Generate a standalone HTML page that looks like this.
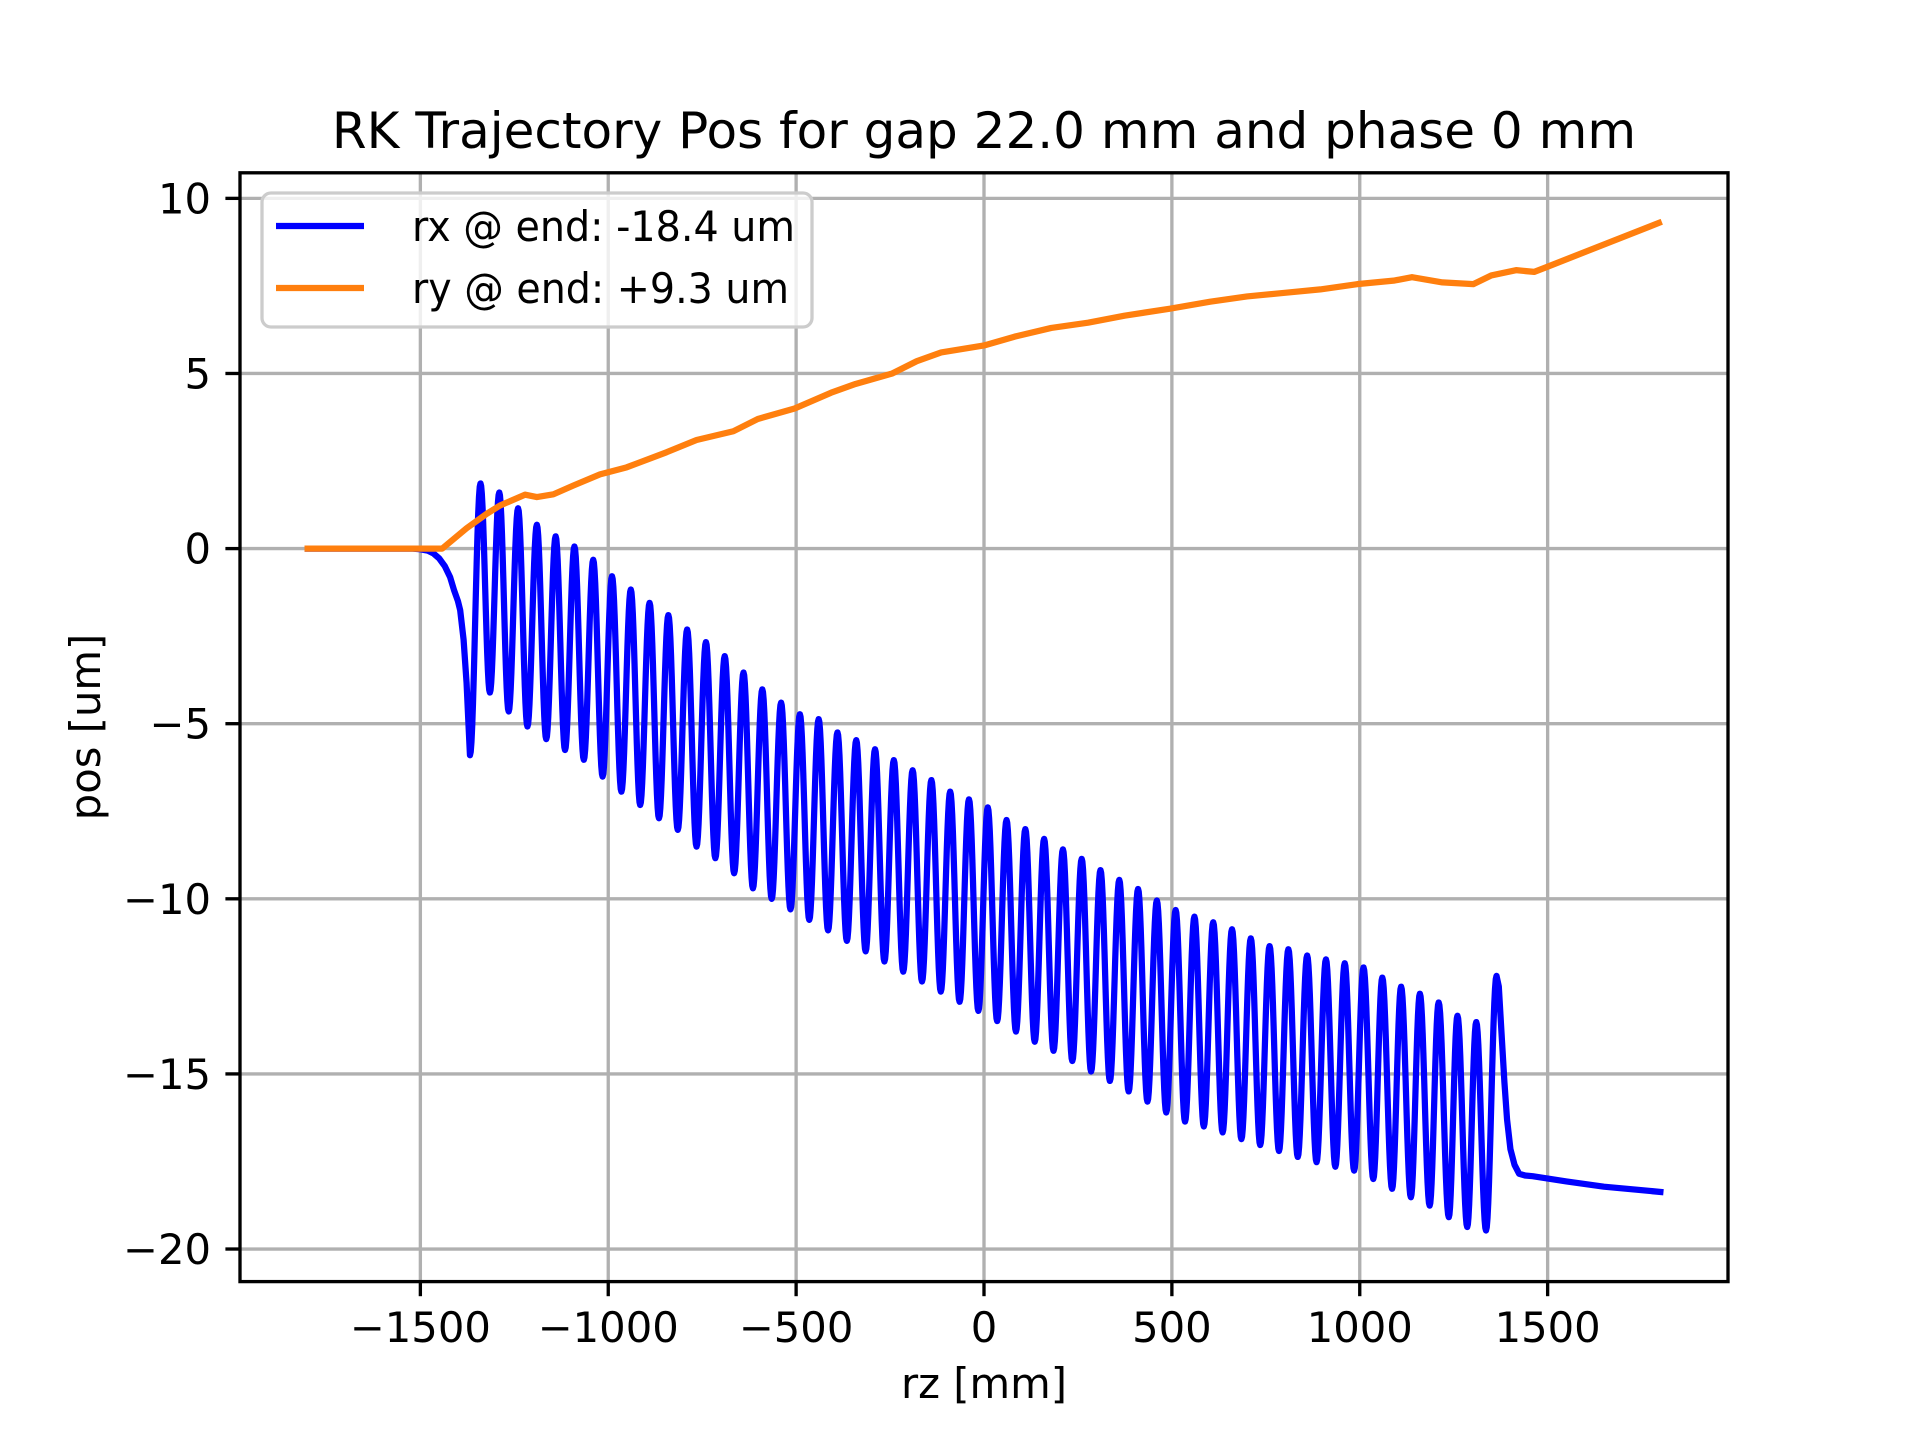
<!DOCTYPE html>
<html><head><meta charset="utf-8"><style>
html,body{margin:0;padding:0;background:#fff;}
svg{display:block;font-family:"DejaVu Sans","Liberation Sans",sans-serif;}
</style></head><body>
<svg id="chart" width="1920" height="1440" viewBox="0 0 1920 1440" xmlns="http://www.w3.org/2000/svg">
<rect x="0" y="0" width="1920" height="1440" fill="#fff"/>
<g id="grid"></g>
<g id="series"></g>
<g id="axes"></g>
<text x="984" y="148" font-size="50" text-anchor="middle">RK Trajectory Pos for gap 22.0 mm and phase 0 mm</text>
<text x="984" y="1398" font-size="41.7" text-anchor="middle">rz [mm]</text>
<text x="0" y="0" font-size="41.7" text-anchor="middle" transform="translate(100,727) rotate(-90)">pos [um]</text>
<g>
<rect x="262" y="193" width="550" height="134" rx="9" fill="#fff" fill-opacity="0.8" stroke="#cccccc" stroke-width="3.3"/>
<line x1="276" y1="226" x2="364" y2="226" stroke="#0000ff" stroke-width="6.25"/>
<text x="412" y="241" font-size="41.7" textLength="383" lengthAdjust="spacingAndGlyphs">rx @ end: -18.4 um</text>
<line x1="276" y1="288" x2="364" y2="288" stroke="#ff7f0e" stroke-width="6.25"/>
<text x="412" y="303" font-size="41.7" textLength="377" lengthAdjust="spacingAndGlyphs">ry @ end: +9.3 um</text>
</g>
</svg>
<script>
const xTicks = [-1500, -1000, -500, 0, 500, 1000, 1500];
const xTickLabels = ["\u22121500", "\u22121000", "\u2212500", "0", "500", "1000", "1500"];
const yTicks = [10, 5, 0, -5, -10, -15, -20];
const yTickLabels = ["10", "5", "0", "\u22125", "\u221210", "\u221215", "\u221220"];

// rx: lead-in (linear)
const rxPreX = [-1800, -1520, -1500, -1480, -1465, -1450, -1435, -1421, -1410, -1400, -1394, -1385, -1377, -1372];
const rxPreY = [0, 0, -0.02, -0.06, -0.14, -0.28, -0.5, -0.81, -1.2, -1.5, -1.76, -2.6, -3.84, -5.0];
// rx troughs
const rxTroughX = [-1368, -1315, -1265, -1215, -1165, -1115, -1065, -1015, -965, -915, -865, -815, -765, -715, -665, -615,
  -565, -515, -465, -415, -365, -315,
  -265, -215, -165, -115, -65, -15, 35, 85, 135, 185, 235, 285, 335, 385, 435, 485, 535, 585, 635, 685,
  735, 785, 835, 885, 935,
  985, 1036, 1086, 1136, 1186, 1237, 1286, 1336];
const rxTroughY = [-5.9, -4.11, -4.65, -5.08, -5.44, -5.75, -6.03, -6.51, -6.94, -7.32, -7.70, -8.03, -8.51, -8.84, -9.27, -9.70,
  -10.0, -10.3, -10.6, -10.9, -11.2, -11.5,
  -11.79, -12.08, -12.36, -12.65, -12.94, -13.20, -13.49, -13.79, -14.08, -14.34, -14.63, -14.93, -15.20, -15.50, -15.79, -16.10, -16.36, -16.50, -16.67, -16.86,
  -17.03, -17.20, -17.37, -17.52, -17.65,
  -17.76, -18.0, -18.28, -18.52, -18.76, -19.09, -19.37, -19.47];
// rx peaks
const rxPeakX = [-1340, -1290, -1240, -1190, -1140, -1090, -1040, -990, -940, -890, -840, -790, -740, -690, -640, -590, -540, -490, -440, -390, -340, -290,
  -240, -190, -140, -90, -40, 10, 60, 110, 160, 210, 260, 310, 360, 410, 460, 510, 560, 610, 660, 710, 760, 810, 860, 910, 960, 1010,
  1060, 1110, 1160, 1210, 1260, 1310, 1364];
const rxPeakY = [1.86, 1.60, 1.15, 0.68, 0.35, 0.06, -0.32, -0.79, -1.17, -1.55, -1.90, -2.31, -2.67, -3.07, -3.54, -4.02, -4.40, -4.73, -4.87, -5.25, -5.47, -5.73,
  -6.04, -6.33, -6.61, -6.94, -7.16, -7.39, -7.75, -8.01, -8.29, -8.59, -8.86, -9.18, -9.46, -9.72, -10.05, -10.32, -10.51, -10.67, -10.87, -11.13, -11.35, -11.44, -11.62, -11.73, -11.84, -11.96,
  -12.25, -12.51, -12.71, -12.96, -13.34, -13.52, -12.2];
// rx tail (linear)
const rxPostX = [1370, 1376, 1385, 1392, 1401, 1412, 1424, 1440, 1460, 1550, 1650, 1800];
const rxPostY = [-12.5, -13.6, -15.24, -16.3, -17.15, -17.6, -17.85, -17.9, -17.92, -18.07, -18.22, -18.37];

// ry
const ryX = [-1800, -1442, -1377, -1324, -1288, -1221, -1190, -1146, -1093, -1022, -951, -845, -765, -667, -602, -504, -407, -342, -244, -179, -114, 0, 81, 179, 277, 374, 495, 602, 700, 797, 895, 993, 1090, 1139, 1220, 1302, 1350, 1416, 1464, 1500, 1796];
const ryY = [0, 0, 0.58, 0.99, 1.23, 1.54, 1.47, 1.55, 1.80, 2.12, 2.32, 2.75, 3.1, 3.35, 3.7, 4.0, 4.45, 4.7, 5.0, 5.35, 5.6, 5.8, 6.05, 6.3, 6.45, 6.65, 6.85, 7.05, 7.2, 7.3, 7.4, 7.55, 7.65, 7.75, 7.6, 7.55, 7.8, 7.95, 7.9, 8.05, 9.3];

const L = 240, R = 1728, T = 172.8, B = 1281.6;
const XMIN = -1980, XMAX = 1980, YMIN = -20.93, YMAX = 10.73;
function sx(v) { return L + (v - XMIN) / (XMAX - XMIN) * (R - L); }
function sy(v) { return B - (v - YMIN) / (YMAX - YMIN) * (B - T); }
const NS = "http://www.w3.org/2000/svg";
function mk(tag, parent, attrs) {
  const e = document.createElementNS(NS, tag);
  for (const k in attrs) e.setAttribute(k, attrs[k]);
  parent.appendChild(e);
  return e;
}
const grid = document.getElementById('grid');
const axes = document.getElementById('axes');
const series = document.getElementById('series');

xTicks.forEach((v, i) => {
  const g = mk('line', grid, {x1: sx(v), x2: sx(v), y1: T, y2: B, stroke: '#b0b0b0', 'stroke-width': 3.33});
  
  
  const t = mk('line', axes, {x1: sx(v), x2: sx(v), y1: B, y2: B + 14.6, stroke: '#000', 'stroke-width': 3.33});
  
  
  const lb = mk('text', axes, {x: sx(v), y: 1342, 'font-size': 41.7, 'text-anchor': 'middle'});
  lb.textContent = xTickLabels[i];
  
  
});
yTicks.forEach((v, i) => {
  const g = mk('line', grid, {x1: L, x2: R, y1: sy(v), y2: sy(v), stroke: '#b0b0b0', 'stroke-width': 3.33});
  
  
  const t = mk('line', axes, {x1: L - 14.6, x2: L, y1: sy(v), y2: sy(v), stroke: '#000', 'stroke-width': 3.33});
  
  
  const lb = mk('text', axes, {x: L - 29, y: sy(v) + 15, 'font-size': 41.7, 'text-anchor': 'end'});
  lb.textContent = yTickLabels[i];
  
  
});
const frame = mk('rect', axes, {x: L, y: T, width: R - L, height: B - T, fill: 'none', stroke: '#000', 'stroke-width': 3.33});



// build rx path
const pts = [];
for (let i = 0; i < rxPreX.length; i++) pts.push([sx(rxPreX[i]), sy(rxPreY[i])]);
const ext = [[rxTroughX[0], rxTroughY[0]]];
for (let i = 0; i < rxPeakX.length; i++) {
  ext.push([rxPeakX[i], rxPeakY[i]]);
  if (i + 1 < rxTroughX.length) ext.push([rxTroughX[i + 1], rxTroughY[i + 1]]);
}
pts.push([sx(ext[0][0]), sy(ext[0][1])]);
for (let i = 0; i + 1 < ext.length; i++) {
  const [x0, y0] = ext[i], [x1, y1] = ext[i + 1];
  const n = 14;
  for (let k = 1; k <= n; k++) {
    const f = k / n;
    const c = (1 - Math.cos(Math.PI * f)) / 2;
    pts.push([sx(x0 + (x1 - x0) * f), sy(y0 + (y1 - y0) * c)]);
  }
}
for (let i = 0; i < rxPostX.length; i++) pts.push([sx(rxPostX[i]), sy(rxPostY[i])]);
const rxPath = mk('path', series, {d: 'M' + pts.map(p => p[0].toFixed(2) + ',' + p[1].toFixed(2)).join('L'), fill: 'none', stroke: '#0000ff', 'stroke-width': 6.25, 'stroke-linejoin': 'round', 'stroke-linecap': 'square'});



const ryPts = ryX.map((x, i) => sx(x).toFixed(2) + ',' + sy(ryY[i]).toFixed(2));
const ryPath = mk('path', series, {d: 'M' + ryPts.join('L'), fill: 'none', stroke: '#ff7f0e', 'stroke-width': 6.25, 'stroke-linejoin': 'round', 'stroke-linecap': 'square'});


</script>
</body></html>
